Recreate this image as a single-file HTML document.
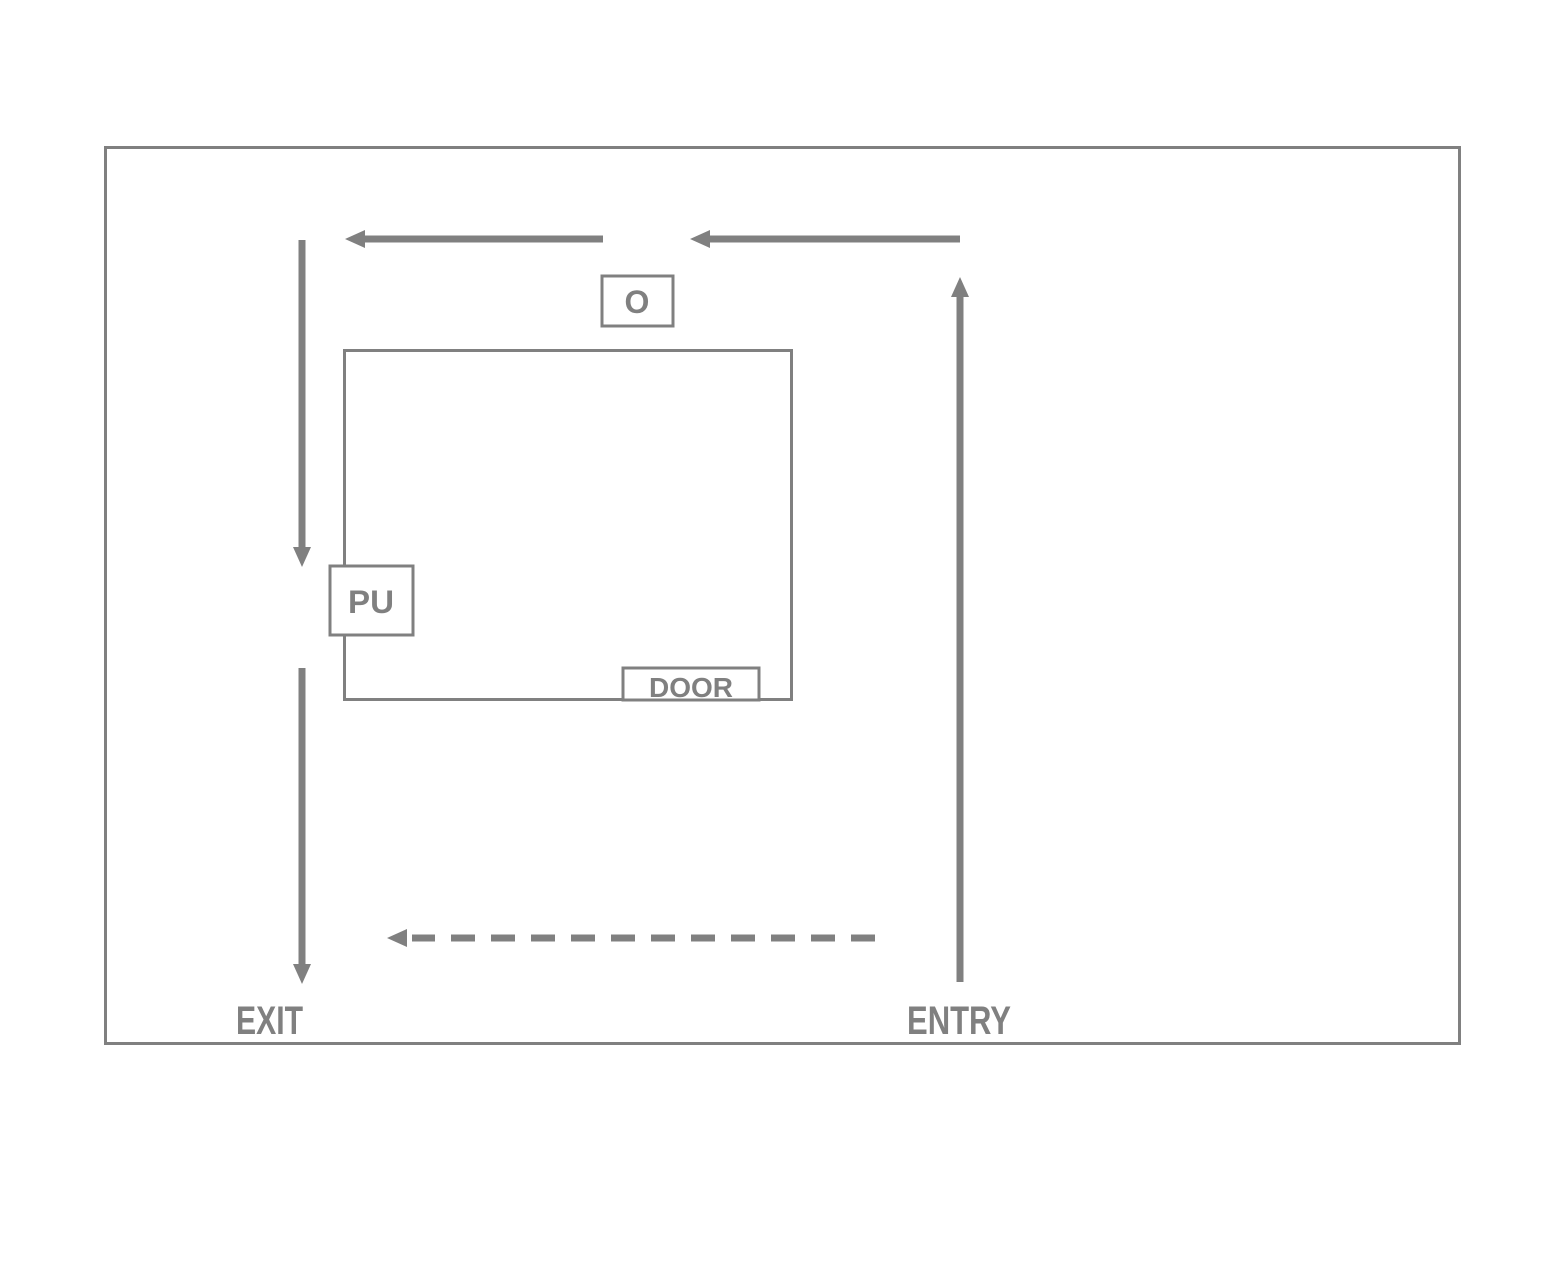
<!DOCTYPE html>
<html><head><meta charset="utf-8"><style>html,body{margin:0;padding:0;background:#fff}svg{display:block}</style></head>
<body>
<svg width="1552" height="1270" viewBox="0 0 1552 1270" xmlns="http://www.w3.org/2000/svg" font-family="Liberation Sans, sans-serif" fill="#808080" font-weight="bold">
<g stroke="#808080" fill="none" stroke-width="3">
<rect x="105.5" y="147.5" width="1354" height="896"/>
<rect x="344.5" y="350.5" width="447" height="349"/>
<rect x="602" y="276" width="71" height="50" fill="#fff"/>
<rect x="330" y="566" width="83" height="69" fill="#fff"/>
<rect x="623" y="668" width="136" height="32" fill="#fff"/>
</g>
<g stroke="#808080" stroke-width="7">
<line x1="603" y1="239" x2="362" y2="239"/>
<line x1="960" y1="239" x2="707" y2="239"/>
<line x1="302" y1="240" x2="302" y2="550"/>
<line x1="302" y1="668" x2="302" y2="966"/>
<line x1="960" y1="982" x2="960" y2="295"/>
<line x1="875" y1="938" x2="412" y2="938" stroke-dasharray="24 16"/>
</g>
<g stroke="none">
<polygon points="345,239 365,230 365,248"/>
<polygon points="690,239 710,230 710,248"/>
<polygon points="302,567 293,547 311,547"/>
<polygon points="302,984 293,964 311,964"/>
<polygon points="960,277 951,297 969,297"/>
<polygon points="387,938 407,929 407,947"/>
</g>
<text x="637" y="313" font-size="32" text-anchor="middle">O</text>
<text x="371" y="613" font-size="32" text-anchor="middle" textLength="46" lengthAdjust="spacingAndGlyphs">PU</text>
<text x="691" y="697" font-size="28" text-anchor="middle" textLength="84" lengthAdjust="spacingAndGlyphs">DOOR</text>
<text x="236" y="1034" font-size="40" textLength="67" lengthAdjust="spacingAndGlyphs">EXIT</text>
<text x="907" y="1034" font-size="40" textLength="104" lengthAdjust="spacingAndGlyphs">ENTRY</text>
</svg>
</body></html>
